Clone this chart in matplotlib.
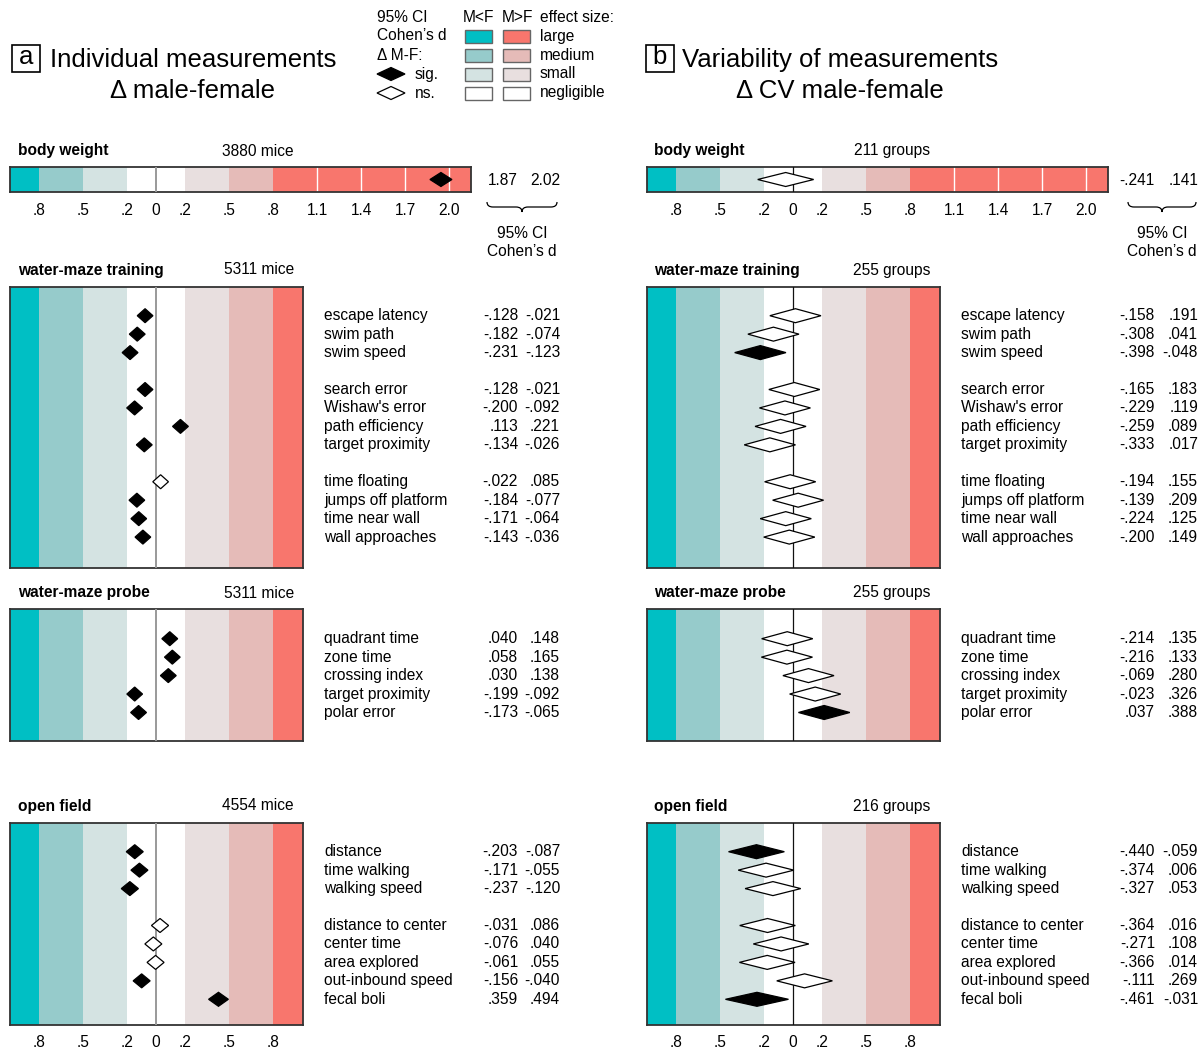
import matplotlib.pyplot as plt
import matplotlib.transforms as mtransforms
from matplotlib.patches import Polygon, Rectangle, PathPatch
from matplotlib.path import Path

plt.rcParams['font.family'] = ['Liberation Sans', 'DejaVu Sans']
plt.rcParams['font.size'] = 11.2

# ---------------- data
band_edges = [-1.0, -0.8, -0.5, -0.2, 0.2, 0.5, 0.8, 2.2]
band_colors = ['#00bfc4', '#96cbcb', '#d4e3e2', '#ffffff', '#e8dfdf', '#e5bbb8', '#f8766d']
size_names = ['large', 'medium', 'small', 'negligible']

bw_ticks = [-0.8, -0.5, -0.2, 0, 0.2, 0.5, 0.8, 1.1, 1.4, 1.7, 2.0]
box_ticks = [-0.8, -0.5, -0.2, 0, 0.2, 0.5, 0.8]
bw_lines = [1.1, 1.4, 1.7, 2.0]

bw_lo_a, bw_hi_a = 1.87, 2.02
bw_lo_b, bw_hi_b = -0.241, 0.141

section_names = ['body weight', 'water-maze training', 'water-maze probe', 'open field']
counts_a = ['3880 mice', '5311 mice', '5311 mice', '4554 mice']
counts_b = ['211 groups', '255 groups', '255 groups', '216 groups']

train_labels = ['escape latency', 'swim path', 'swim speed',
                'search error', "Wishaw's error", 'path efficiency', 'target proximity',
                'time floating', 'jumps off platform', 'time near wall', 'wall approaches']
train_groups = [3, 4, 4]
train_lo_a = [-.128, -.182, -.231, -.128, -.200, .113, -.134, -.022, -.184, -.171, -.143]
train_hi_a = [-.021, -.074, -.123, -.021, -.092, .221, -.026, .085, -.077, -.064, -.036]
train_lo_b = [-.158, -.308, -.398, -.165, -.229, -.259, -.333, -.194, -.139, -.224, -.200]
train_hi_b = [.191, .041, -.048, .183, .119, .089, .017, .155, .209, .125, .149]

probe_labels = ['quadrant time', 'zone time', 'crossing index', 'target proximity', 'polar error']
probe_groups = [5]
probe_lo_a = [.040, .058, .030, -.199, -.173]
probe_hi_a = [.148, .165, .138, -.092, -.065]
probe_lo_b = [-.214, -.216, -.069, -.023, .037]
probe_hi_b = [.135, .133, .280, .326, .388]

open_labels = ['distance', 'time walking', 'walking speed',
               'distance to center', 'center time', 'area explored', 'out-inbound speed', 'fecal boli']
open_groups = [3, 5]
open_lo_a = [-.203, -.171, -.237, -.031, -.076, -.061, -.156, .359]
open_hi_a = [-.087, -.055, -.120, .086, .040, .055, -.040, .494]
open_lo_b = [-.440, -.374, -.327, -.364, -.271, -.366, -.111, -.461]
open_hi_b = [-.059, .006, .053, .016, .108, .014, .269, -.031]

# ---------------- layout (pixels)
W, H = 1203, 1051
ROW = 18.45
HALF = 7  # half height of a diamond, px

panels = {
    'a': dict(zero=156, unit=146.5, name_x=18, count_x=294, text_x=324, ci_x=(518, 560),
              brace=(487, 557), zcolor='#999999', zlw=1.4,
              title='Individual measurements', sub='\u0394 male-female', letter='a',
              box_x=12, title_x=50, sub_x=192),
    'b': dict(zero=793, unit=146.5, name_x=654, count_x=930, text_x=961, ci_x=(1155, 1198),
              brace=(1128, 1196), zcolor='#111111', zlw=0.9,
              title='Variability of measurements', sub='\u0394 CV male-female', letter='b',
              box_x=646, title_x=682, sub_x=840),
}
# label y, box top, first row y, box bottom
bw_layout = (151, 167, 192)
sec_layout = [(270, 286.7, 315.7, 568), (593, 609, 638.7, 741), (806, 822.7, 851.7, 1025)]

fig = plt.figure(figsize=(W / 100, H / 100), dpi=100)
canvas = fig.add_axes([0, 0, 1, 1])
canvas.set_xlim(0, W)
canvas.set_ylim(H, 0)
canvas.axis('off')


def px_axes(x0, x1, y0, y1):
    return fig.add_axes([x0 / W, 1 - y1 / H, (x1 - x0) / W, (y1 - y0) / H])


def fmt(v, nd=3):
    s = f'{v:.{nd}f}'
    if s.lstrip('-').startswith('0.'):
        s = s.replace('0.', '.', 1)
    return s


def tick_label(t):
    if t == 0:
        return '0'
    s = f'{abs(t):.1f}'
    return s[1:] if s.startswith('0') else s


def row_positions(groups):
    pos, r = [], 0
    for g in groups:
        pos += list(range(r, r + g))
        r += g + 1
    return pos


def diamond(ax, lo, hi, y, h):
    sig = lo > 0 or hi < 0
    mid = (lo + hi) / 2
    ax.add_patch(Polygon([(lo, y), (mid, y - h), (hi, y), (mid, y + h)], closed=True,
                         facecolor='black' if sig else 'white', edgecolor='black',
                         lw=0.9, zorder=5))


def make_box(p, xmax, top, bot, first):
    ax = px_axes(p['zero'] - p['unit'], p['zero'] + p['unit'] * xmax, top, bot)
    ax.set_xlim(-1, xmax)
    ax.set_ylim((bot - first) / ROW, (top - first) / ROW)
    for lo, hi, c in zip(band_edges[:-1], band_edges[1:], band_colors):
        ax.axvspan(lo, hi, color=c, lw=0)
    ax.axvline(0, color=p['zcolor'], lw=p['zlw'], zorder=3)
    for s in ax.spines.values():
        s.set_color('#333333')
        s.set_linewidth(1.3)
    ax.set_yticks([])
    ax.set_xticks([])
    return ax


def brace(x0, x1, y0, y1, y2):
    xc = (x0 + x1) / 2
    q = 6
    verts = [(x0, y0), (x0, y1), (x0 + q, y1),
             (xc - q, y1), (xc, y1), (xc, y2),
             (xc, y1), (xc + q, y1),
             (x1 - q, y1), (x1, y1), (x1, y0)]
    codes = [Path.MOVETO, Path.CURVE3, Path.CURVE3,
             Path.LINETO, Path.CURVE3, Path.CURVE3,
             Path.CURVE3, Path.CURVE3,
             Path.LINETO, Path.CURVE3, Path.CURVE3]
    canvas.add_patch(PathPatch(Path(verts, codes), facecolor='none', edgecolor='black', lw=0.9))


data = {
    'a': dict(bw=(bw_lo_a, bw_hi_a, 2), counts=counts_a,
              secs=[(train_labels, train_groups, train_lo_a, train_hi_a),
                    (probe_labels, probe_groups, probe_lo_a, probe_hi_a),
                    (open_labels, open_groups, open_lo_a, open_hi_a)]),
    'b': dict(bw=(bw_lo_b, bw_hi_b, 3), counts=counts_b,
              secs=[(train_labels, train_groups, train_lo_b, train_hi_b),
                    (probe_labels, probe_groups, probe_lo_b, probe_hi_b),
                    (open_labels, open_groups, open_lo_b, open_hi_b)]),
}

for key, p in panels.items():
    d = data[key]
    # panel title
    canvas.add_patch(Rectangle((p['box_x'], 45), 28, 27, facecolor='white', edgecolor='black', lw=1.2))
    canvas.text(p['box_x'] + 14, 57.5, p['letter'], fontsize=18.5, ha='center', va='center')
    canvas.text(p['title_x'], 60, p['title'], fontsize=18.5, ha='left', va='center')
    canvas.text(p['sub_x'], 91, p['sub'], fontsize=18.5, ha='center', va='center')

    # body weight bar
    ly, top, bot = bw_layout
    canvas.text(p['name_x'], ly, section_names[0], fontweight='bold', ha='left', va='center')
    canvas.text(p['count_x'], ly, d['counts'][0], ha='right', va='center')
    ax = make_box(p, 2.15, top, bot, (top + bot) / 2)
    for v in bw_lines:
        ax.axvline(v, color='white', lw=1, zorder=2)
    lo, hi, nd = d['bw']
    diamond(ax, lo, hi, 0, HALF / ROW)
    ax.set_xticks(bw_ticks, [tick_label(t) for t in bw_ticks])
    ax.tick_params(axis='x', length=0, pad=8, labelsize=11.2)
    yc = (top + bot) / 2 + 1
    canvas.text(p['ci_x'][0], yc, fmt(lo, nd), ha='right', va='center')
    canvas.text(p['ci_x'][1], yc, fmt(hi, nd), ha='right', va='center')
    b0, b1 = p['brace']
    brace(b0, b1, 202, 207, 212)
    canvas.text((b0 + b1) / 2, 233, '95% CI', ha='center', va='center')
    canvas.text((b0 + b1) / 2, 251, 'Cohen\u2019s d', ha='center', va='center')

    # sections
    for i, ((labels, groups, los, his), (ly, top, first, bot)) in enumerate(zip(d['secs'], sec_layout)):
        canvas.text(p['name_x'], ly, section_names[i + 1], fontweight='bold', ha='left', va='center')
        canvas.text(p['count_x'], ly, d['counts'][i + 1], ha='right', va='center')
        ax = make_box(p, 1.0, top, bot, first)
        rows = row_positions(groups)
        trans = mtransforms.blended_transform_factory(canvas.transData, ax.transData)
        for lab, lo, hi, r in zip(labels, los, his, rows):
            diamond(ax, lo, hi, r, HALF / ROW)
            ax.text(p['text_x'], r, lab, transform=trans, ha='left', va='center', clip_on=False)
            ax.text(p['ci_x'][0], r, fmt(lo), transform=trans, ha='right', va='center', clip_on=False)
            ax.text(p['ci_x'][1], r, fmt(hi), transform=trans, ha='right', va='center', clip_on=False)
        if i == len(sec_layout) - 1:
            ax.set_xticks(box_ticks, [tick_label(t) for t in box_ticks])
            ax.tick_params(axis='x', length=0, pad=7, labelsize=11.2)

# ---------------- legend
for y, s in zip([17, 36, 55], ['95% CI', 'Cohen\u2019s d', '\u0394 M-F:']):
    canvas.text(377, y, s, ha='left', va='center')
for y, fc, s in [(74, 'black', 'sig.'), (93, 'white', 'ns.')]:
    canvas.add_patch(Polygon([(377, y), (391, y - 6.5), (405, y), (391, y + 6.5)], closed=True,
                             facecolor=fc, edgecolor='black', lw=0.9))
    canvas.text(415, y, s, ha='left', va='center')
canvas.text(478, 17, 'M<F', ha='center', va='center')
canvas.text(517, 17, 'M>F', ha='center', va='center')
canvas.text(540, 17, 'effect size:', ha='left', va='center')
left_cols = [band_colors[0], band_colors[1], band_colors[2], band_colors[3]]
right_cols = [band_colors[6], band_colors[5], band_colors[4], band_colors[3]]
for y, cl, cr, name in zip([36, 55, 74, 93], left_cols, right_cols, size_names):
    canvas.add_patch(Rectangle((465, y - 6.5), 27, 13, facecolor=cl, edgecolor='#666666', lw=1))
    canvas.add_patch(Rectangle((503, y - 6.5), 27, 13, facecolor=cr, edgecolor='#666666', lw=1))
    canvas.text(540, y, name, ha='left', va='center')

fig.savefig('out.png', dpi=100, facecolor='white')
